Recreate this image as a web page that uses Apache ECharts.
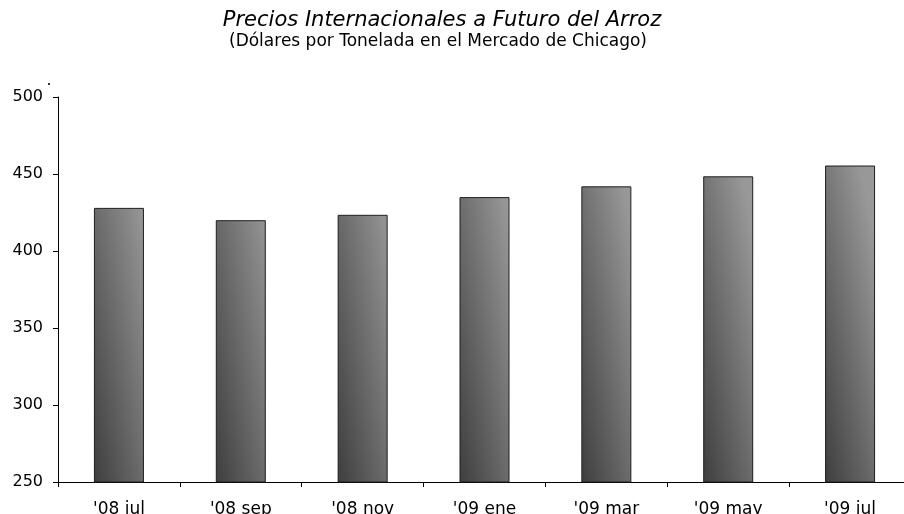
<!DOCTYPE html>
<html>
<head>
<meta charset="utf-8">
<script src="https://cdn.jsdelivr.net/npm/echarts@6/dist/echarts.min.js"></script>
<style>
  html, body { margin: 0; padding: 0; background: #fff; }
  #chart { width: 904px; height: 514px; }
</style>
</head>
<body>
<div id="chart"></div>
<script>
// Rice futures, Chicago market (USD per ton)
const titleText = 'Precios Internacionales a Futuro del Arroz';
const subtitleText = '(Dólares por Tonelada en el Mercado de Chicago)';
const months = ["'08 jul", "'08 sep", "'08 nov", "'09 ene", "'09 mar", "'09 may", "'09 jul"];
const prices = [428, 420, 423.5, 435, 442, 448.5, 455.5];
const yMin = 250;
const yMax = 500;
const yStep = 50;

const FONT = 'DejaVu Sans';

const chart = echarts.init(document.getElementById('chart'), null, { renderer: 'canvas' });

chart.setOption({
  animation: false,
  backgroundColor: '#ffffff',
  grid: {
    left: 58,
    right: -7,
    top: 97,
    bottom: 32,
    containLabel: false,
    outerBoundsMode: 'none'
  },
  graphic: [
    {
      type: 'text',
      x: 442,
      y: 21,
      style: {
        text: titleText,
        fontFamily: FONT,
        fontStyle: 'italic',
        fontSize: 21,
        fill: '#000',
        textAlign: 'center',
        textVerticalAlign: 'middle'
      }
    },
    {
      type: 'text',
      x: 438,
      y: 42,
      style: {
        text: subtitleText,
        fontFamily: FONT,
        fontSize: 17,
        fill: '#000',
        textAlign: 'center',
        textVerticalAlign: 'middle'
      }
    },
    {
      type: 'circle',
      shape: { cx: 49, cy: 84, r: 1.1 },
      style: { fill: '#000' }
    }
  ],
  xAxis: {
    type: 'category',
    data: months,
    boundaryGap: true,
    axisLine: { show: true, lineStyle: { color: '#000', width: 1 } },
    axisTick: { show: true, alignWithLabel: false, length: 5, lineStyle: { color: '#000' } },
    axisLabel: {
      color: '#000',
      fontFamily: FONT,
      fontSize: 17,
      margin: 19,
      interval: 0
    },
    splitLine: { show: false }
  },
  yAxis: {
    type: 'value',
    min: yMin,
    max: yMax,
    interval: yStep,
    axisLine: { show: true, lineStyle: { color: '#000', width: 1 } },
    axisTick: { show: true, length: 5, lineStyle: { color: '#000' } },
    axisLabel: {
      color: '#000',
      fontFamily: FONT,
      fontSize: 16,
      margin: 15
    },
    splitLine: { show: false }
  },
  series: [
    {
      type: 'bar',
      data: prices,
      barWidth: 50,
      itemStyle: {
        color: {
          type: 'linear',
          x: 0, y: 1, x2: 1.9, y2: 0.94,
          colorStops: [
            { offset: 0, color: '#3e3e3e' },
            { offset: 1, color: '#989898' }
          ]
        },
        borderColor: '#1e1e1e',
        borderWidth: 1
      }
    }
  ]
});
</script>
</body>
</html>
